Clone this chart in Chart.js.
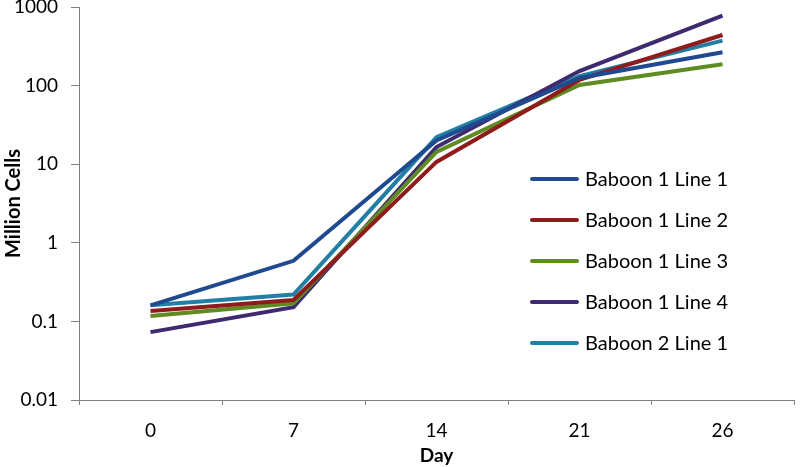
<!DOCTYPE html>
<html>
<head>
<meta charset="utf-8">
<script src="https://cdn.jsdelivr.net/npm/chart.js@4"></script>
<style>
  html, body { margin: 0; padding: 0; background: #fff; }
  #wrap { width: 800px; height: 467px; }
</style>
</head>
<body>
<div id="wrap"><canvas id="myChart" width="800" height="467"></canvas></div>
<script>
// data
const days = ["0", "7", "14", "21", "26"]
const seriesNames = ["Baboon 1 Line 1", "Baboon 1 Line 2", "Baboon 1 Line 3", "Baboon 1 Line 4", "Baboon 2 Line 1"]
const baboon1Line1 = [0.16, 0.59, 20, 125, 265]
const baboon1Line2 = [0.136, 0.187, 10.7, 118, 440]
const baboon1Line3 = [0.117, 0.17, 14.3, 102, 187]
const baboon1Line4 = [0.073, 0.152, 16.5, 153, 775]
const baboon2Line1 = [0.16, 0.22, 22, 132, 373]
const yTicks = [0.01, 0.1, 1, 10, 100, 1000]

const colors = ["#1f4a8f", "#8e1c1c", "#5f8c22", "#3e2b6f", "#217fa6"]
const allSeries = [baboon1Line1, baboon1Line2, baboon1Line3, baboon1Line4, baboon2Line1]

const FONT = "Lato, 'Open Sans', sans-serif"

let datasets = allSeries.map((values, i) => ({
    label: seriesNames[i],
    data: values,
    borderColor: colors[i],
    backgroundColor: colors[i],
    borderWidth: 4,
    pointRadius: 0,
    tension: 0,
    fill: false
}))

// draws the legend inside the plot, like the original
const insideLegend = {
    id: 'insideLegend',
    afterDraw(chart) {
        const ctx = chart.ctx
        ctx.save()
        ctx.font = "20px " + FONT
        ctx.textBaseline = "middle"
        chart.data.datasets.forEach((ds, i) => {
            let y = 179 + i * 41
            ctx.strokeStyle = ds.borderColor
            ctx.lineWidth = 4
            ctx.lineCap = "round"
            ctx.beginPath()
            ctx.moveTo(532, y)
            ctx.lineTo(577, y)
            ctx.stroke()
            ctx.fillStyle = "#000"
            ctx.fillText(ds.label, 585, y + 1)
        })
        ctx.restore()
    }
}

const ctx = document.getElementById('myChart')
new Chart(ctx, {
    type: 'line',
    data: {
        labels: days,
        datasets: datasets
    },
    options: {
        responsive: false,
        animation: false,
        layout: { padding: { top: 7, right: 6, left: 0, bottom: 0 } },
        plugins: {
            legend: { display: false },
            tooltip: { enabled: false }
        },
        scales: {
            x: {
                offset: true,
                grid: {
                    display: true,
                    drawOnChartArea: false,
                    offset: true,
                    tickLength: 5,
                    color: "#808080"
                },
                border: { color: "#808080", width: 1 },
                ticks: { color: "#000", font: { family: FONT, size: 19 }, padding: 14 },
                title: {
                    display: true,
                    text: "Day",
                    color: "#000",
                    font: { family: FONT, size: 19, weight: "bold" },
                    padding: { top: 0, bottom: 0 }
                },
                afterFit(scale) { scale.height = 67 }
            },
            y: {
                type: 'logarithmic',
                min: 0.01,
                max: 1000,
                grid: {
                    display: true,
                    drawOnChartArea: false,
                    tickLength: 8,
                    color: "#808080"
                },
                border: { color: "#808080", width: 1 },
                afterBuildTicks(scale) {
                    scale.ticks = yTicks.map(v => ({ value: v }))
                },
                ticks: {
                    color: "#000",
                    font: { family: FONT, size: 19 },
                    padding: 13,
                    callback: (v) => String(v)
                },
                title: {
                    display: true,
                    text: "Million Cells",
                    color: "#000",
                    font: { family: FONT, size: 20, weight: "bold" },
                    padding: { top: 2, bottom: 0 }
                },
                afterFit(scale) {
                    scale.width = 79
                    scale.paddingTop = 0
                    scale.paddingBottom = 0
                }
            }
        }
    },
    plugins: [insideLegend]
})
</script>
</body>
</html>
